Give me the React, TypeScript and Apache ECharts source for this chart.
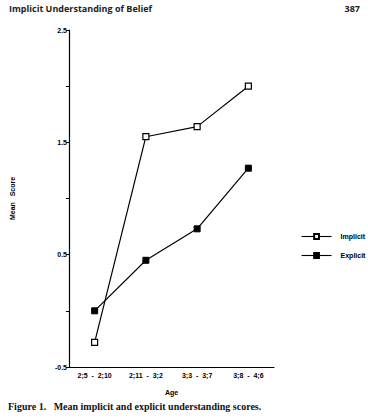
import React, { useEffect, useRef } from "react";
import * as echarts from "echarts";

const categories = ["2;5  -  2;10", "2;11  -  3;2", "3;3  -  3;7", "3;8  -  4;6"];
const implicitScores = [-0.28, 1.55, 1.64, 2.0];
const explicitScores = [0.0, 0.45, 0.73, 1.27];
const labeledTicks = ["-0.5", "0.5", "1.5", "2.5"];

export default function App() {
  const ref = useRef<HTMLDivElement>(null);
  useEffect(() => {
    if (!ref.current) return;
    const chart = echarts.init(ref.current, undefined, { renderer: "svg" });
    const axisFont = { fontFamily: "Liberation Sans", fontWeight: "bold" as const, fontSize: 7, color: "#000" };
    chart.setOption({
      animation: false,
      backgroundColor: "#fff",
      grid: { left: 69, right: 94, top: 30, bottom: 53 },
      legend: {
        orient: "vertical",
        left: 296,
        top: 228,
        itemWidth: 30,
        itemHeight: 6,
        itemGap: 12,
        lineStyle: { width: 1.1, color: "#000" },
        textStyle: { ...axisFont, fontSize: 7, padding: [0, 0, 0, 4] },
        data: ["Implicit", "Explicit"],
      },
      xAxis: {
        type: "category",
        data: categories,
        boundaryGap: true,
        name: "Age",
        nameLocation: "middle",
        nameGap: 22,
        nameTextStyle: { ...axisFont, fontSize: 7, letterSpacing: 1.5 },
        axisLine: { onZero: false, lineStyle: { color: "#000", width: 1.2 } },
        axisTick: { alignWithLabel: true, inside: true, length: 2, lineStyle: { color: "#000" } },
        axisLabel: { ...axisFont, margin: 5, interval: 0 },
      },
      yAxis: {
        type: "value",
        min: -0.5,
        max: 2.5,
        interval: 0.5,
        name: "Mean   Score",
        nameLocation: "middle",
        nameGap: 53,
        nameRotate: 90,
        nameTextStyle: { ...axisFont, fontSize: 7, letterSpacing: 1.5 },
        splitLine: { show: false },
        axisLine: { show: true, onZero: false, lineStyle: { color: "#000", width: 1.2 } },
        axisTick: { show: true, length: 3, lineStyle: { color: "#000" } },
        axisLabel: {
          ...axisFont,
          margin: 2,
          formatter: (v: number) => {
            const s = v.toFixed(1);
            return labeledTicks.includes(s) ? s : "";
          },
        },
      },
      series: [
        {
          name: "Implicit",
          type: "line",
          data: implicitScores,
          symbol: "rect",
          symbolSize: 6,
          lineStyle: { color: "#000", width: 1.2 },
          itemStyle: { color: "#fff", borderColor: "#000", borderWidth: 1.2 },
        },
        {
          name: "Explicit",
          type: "line",
          data: explicitScores,
          symbol: "rect",
          symbolSize: 6,
          lineStyle: { color: "#000", width: 1.2 },
          itemStyle: { color: "#000", borderColor: "#000", borderWidth: 1 },
        },
      ],
      graphic: [
        {
          type: "text",
          left: 9,
          top: 4,
          style: { text: "Implicit Understanding of Belief", font: "bold 9px 'Open Sans'", fill: "#222" },
        },
        {
          type: "text",
          right: 8,
          top: 4,
          style: { text: "387", font: "bold 9px 'Open Sans'", fill: "#222" },
        },
        {
          type: "text",
          left: 8,
          top: 401,
          style: {
            text: "Figure 1.   Mean implicit and explicit understanding scores.",
            font: "bold 10px 'Liberation Serif'",
            fill: "#111",
          },
        },
      ],
    });
    return () => chart.dispose();
  }, []);
  return (
    <div
      ref={ref}
      style={{ position: "fixed", left: 0, top: 0, width: 368, height: 420, background: "#fff" }}
    />
  );
}
